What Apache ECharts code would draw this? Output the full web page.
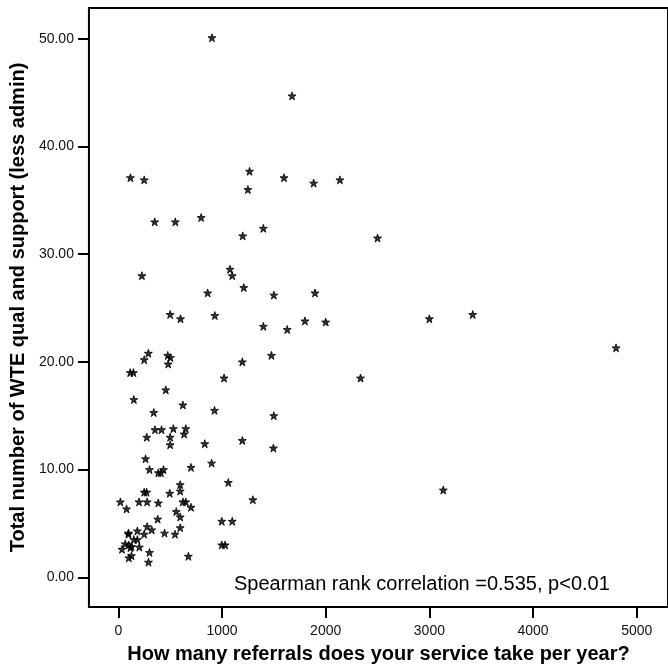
<!DOCTYPE html>
<html>
<head>
<meta charset="utf-8">
<script src="https://cdn.jsdelivr.net/npm/echarts@6/dist/echarts.min.js"></script>
<style>
  html, body { margin: 0; padding: 0; background: #fff; }
  #chart { width: 668px; height: 670px; }
</style>
</head>
<body>
<div id="chart"></div>
<script>
// Referrals per year for each service
const referrals = [
  290, 250, 477, 503, 481, 1477, 1196, 115, 146, 1020,
  458, 150, 623, 928, 1500, 342, 354, 417, 531, 651,
  635, 275, 500, 500, 834, 1196, 1496, 263, 301, 386,
  411, 436, 701, 900, 1061, 597, 597, 250, 273, 496,
  20, 200, 278, 386, 623, 651, 80, 701, 1298, 559,
  597, 380, 998, 1099, 278, 323, 184, 98, 98, 250,
  446, 547, 597, 150, 184, 67, 102, 127, 117, 203,
  36, 998, 1030, 301, 127, 102, 291, 676,
  117, 250, 1266, 1598, 1250, 351, 550, 799, 1399, 1200,
  228, 1077, 1099, 1210, 862, 1500, 500, 600, 931, 1399,
  1629, 903, 1676, 1884, 2137, 2500, 1897, 1800, 2000, 3000,
  3418, 2336, 4800, 3134
];

// Total WTE qualified and support staff (less admin) for the same services
const wte = [
  20.8, 20.2, 20.6, 20.4, 19.8, 20.6, 20.0, 19.0, 19.0, 18.5,
  17.4, 16.5, 16.0, 15.5, 15.0, 15.3, 13.7, 13.7, 13.8, 13.8,
  13.3, 13.0, 13.0, 12.3, 12.4, 12.7, 12.0, 11.0, 10.0, 9.7,
  9.7, 10.0, 10.2, 10.6, 8.8, 8.6, 8.0, 7.9, 7.9, 7.8,
  7.0, 7.0, 7.0, 6.9, 7.0, 7.0, 6.35, 6.5, 7.2, 6.1,
  5.6, 5.4, 5.2, 5.2, 4.7, 4.4, 4.3, 4.1, 4.0, 4.0,
  4.1, 4.0, 4.6, 3.5, 3.5, 3.1, 3.0, 2.85, 2.75, 2.8,
  2.6, 3.0, 3.0, 2.3, 2.0, 1.8, 1.4, 1.95,
  37.1, 36.9, 37.7, 37.1, 36.0, 33.0, 33.0, 33.4, 32.4, 31.7,
  28.0, 28.6, 28.0, 26.9, 26.4, 26.2, 24.4, 24.0, 24.3, 23.3,
  23.0, 50.1, 44.7, 36.6, 36.9, 31.5, 26.4, 23.8, 23.7, 24.0,
  24.4, 18.5, 21.3, 8.1
];

const xTicks = [0, 1000, 2000, 3000, 4000, 5000];
const yTicks = [0, 10, 20, 30, 40, 50];

const xTitle = 'How many referrals does your service take per year?';
const yTitle = 'Total number of WTE qual and support (less admin)';
const note = 'Spearman rank correlation =0.535, p<0.01';

const points = referrals.map((r, i) => [r, wte[i]]);

const starPath = 'path://M50,0 L61.8,35.3 L99,35.3 L69,57.3 L80.5,92.7 L50,70.8 L19.5,92.7 L31,57.3 L1,35.3 L38.2,35.3 Z';

const font = '"Liberation Sans", Arial, sans-serif';

const chart = echarts.init(document.getElementById('chart'), null, { renderer: 'canvas' });

chart.setOption({
  animation: false,
  backgroundColor: '#ffffff',
  grid: {
    left: 88, top: 8, bottom: 63, right: -10,
    show: true,
    borderColor: '#000',
    borderWidth: 2,
    backgroundColor: 'transparent'
  },
  xAxis: {
    type: 'value',
    min: -283, max: 5301,
    name: xTitle,
    nameLocation: 'middle',
    nameGap: 37,
    nameTextStyle: { fontFamily: font, fontSize: 20, fontWeight: 'bold', color: '#000' },
    axisLine: { show: false, onZero: false },
    axisTick: { show: true, length: 11, customValues: xTicks, lineStyle: { color: '#000', width: 2 } },
    axisLabel: {
      customValues: xTicks, margin: 17, fontFamily: font, fontSize: 14, color: '#111',
      formatter: v => String(v)
    },
    splitLine: { show: false }
  },
  yAxis: {
    type: 'value',
    min: -2.76, max: 52.86,
    name: yTitle,
    nameLocation: 'middle',
    nameGap: 57,
    nameTextStyle: { fontFamily: font, fontSize: 20, fontWeight: 'bold', color: '#000' },
    axisLine: { show: false, onZero: false },
    axisTick: { show: true, length: 11, customValues: yTicks, lineStyle: { color: '#000', width: 2 } },
    axisLabel: {
      customValues: yTicks, margin: 15, fontFamily: font, fontSize: 14, color: '#111',
      formatter: v => v.toFixed(2)
    },
    splitLine: { show: false }
  },
  graphic: [{
    type: 'text',
    x: 234, y: 584,
    style: {
      text: note,
      fontFamily: font,
      fontSize: 20,
      fill: '#000',
      textVerticalAlign: 'middle'
    }
  }],
  series: [{
    type: 'scatter',
    data: points,
    symbol: starPath,
    symbolSize: 8,
    itemStyle: { color: '#000', borderColor: '#000', borderWidth: 1 }
  }]
});
</script>
</body>
</html>
